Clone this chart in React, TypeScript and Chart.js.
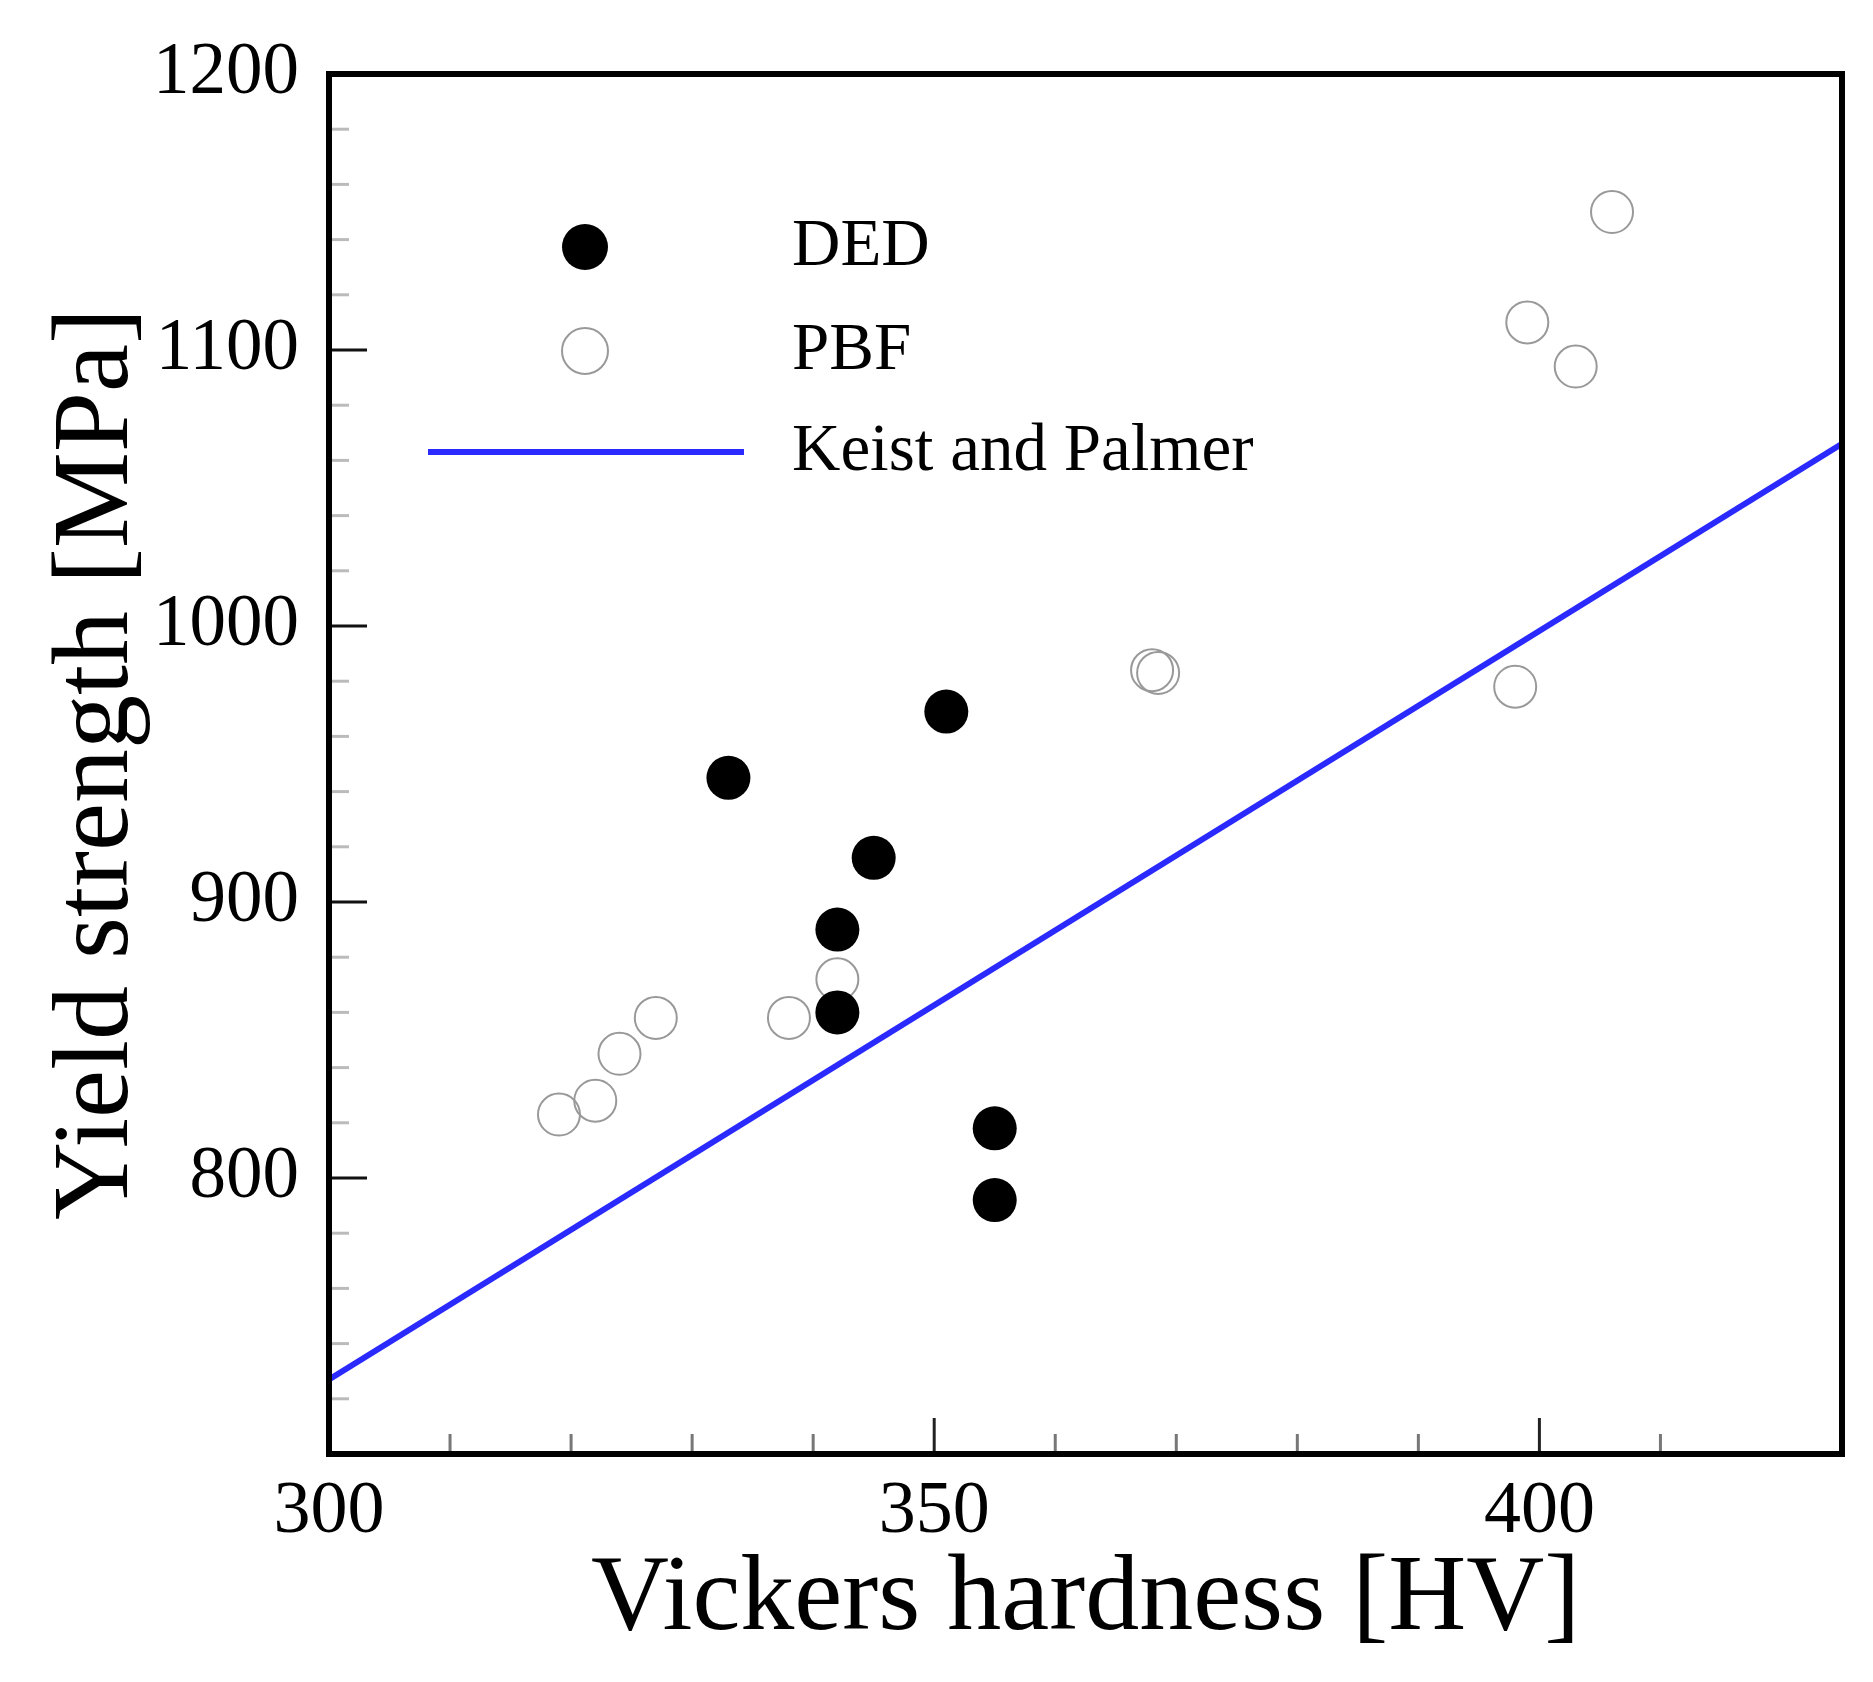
import { useEffect, useRef } from "react"
import { Chart, registerables, type Plugin } from "chart.js"

Chart.register(...registerables)

// DED (filled markers)
const dedHardness = [333, 351, 345, 342, 342, 355, 355]
const dedStrength = [945, 969, 916, 890, 860, 818, 792]

// PBF (open markers)
const pbfHardness = [319, 322, 324, 327, 338, 342, 368, 368.5, 398, 399, 403, 406]
const pbfStrength = [823, 828, 845, 858, 858, 872, 984, 983, 978, 1110, 1094, 1150]

// Keist and Palmer relation, end points
const kpHardness = [300, 425]
const kpStrength = [727, 1066]

const serif = "'Liberation Serif', 'Times New Roman', serif"
const blue = "#2a2aff"

const toPoints = (xs: number[], ys: number[]) => xs.map((x, i) => ({ x, y: ys[i] }))

// inward tick marks and frame
const framePlugin: Plugin<"scatter"> = {
  id: "frame",
  afterDraw(chart) {
    const ctx = chart.ctx
    const { left, right, top, bottom } = chart.chartArea
    const xs = chart.scales.x
    const ys = chart.scales.y
    ctx.save()
    xs.ticks.forEach((t) => {
      const px = xs.getPixelForValue(t.value)
      const major = t.value % 50 === 0
      ctx.strokeStyle = major ? "#222" : "#777"
      ctx.lineWidth = 3
      ctx.beginPath()
      ctx.moveTo(px, bottom)
      ctx.lineTo(px, bottom - (major ? 36 : 20))
      ctx.stroke()
    })
    ys.ticks.forEach((t) => {
      const py = ys.getPixelForValue(t.value)
      const major = t.value % 100 === 0
      ctx.strokeStyle = major ? "#111" : "#bbb"
      ctx.lineWidth = 3
      ctx.beginPath()
      ctx.moveTo(left, py)
      ctx.lineTo(left + (major ? 38 : 20), py)
      ctx.stroke()
    })
    ctx.strokeStyle = "#000"
    ctx.lineWidth = 6
    ctx.strokeRect(left, top, right - left, bottom - top)
    ctx.restore()
  },
}

// legend in the upper left of the plot
const legendPlugin: Plugin<"scatter"> = {
  id: "innerLegend",
  afterDraw(chart) {
    const ctx = chart.ctx
    ctx.save()
    ctx.font = `67px ${serif}`
    ctx.fillStyle = "#000"
    ctx.textBaseline = "middle"
    ctx.textAlign = "left"

    ctx.beginPath()
    ctx.arc(585, 247, 23, 0, Math.PI * 2)
    ctx.fillStyle = "#000"
    ctx.fill()
    ctx.fillText("DED", 792, 247)

    ctx.beginPath()
    ctx.arc(585, 351, 23, 0, Math.PI * 2)
    ctx.strokeStyle = "#999"
    ctx.lineWidth = 2
    ctx.stroke()
    ctx.fillText("PBF", 792, 351)

    ctx.beginPath()
    ctx.moveTo(428, 452)
    ctx.lineTo(744, 452)
    ctx.strokeStyle = blue
    ctx.lineWidth = 6
    ctx.stroke()
    ctx.fillText("Keist and Palmer", 792, 452)
    ctx.restore()
  },
}

export default function App() {
  const canvasRef = useRef<HTMLCanvasElement>(null)

  useEffect(() => {
    if (!canvasRef.current) return
    const chart = new Chart(canvasRef.current, {
      type: "scatter",
      data: {
        datasets: [
          {
            label: "DED",
            data: toPoints(dedHardness, dedStrength),
            pointRadius: 22,
            pointBackgroundColor: "#000",
            pointBorderColor: "#000",
            pointBorderWidth: 0,
            order: 0,
          },
          {
            label: "PBF",
            data: toPoints(pbfHardness, pbfStrength),
            pointRadius: 21,
            pointBackgroundColor: "rgba(0,0,0,0)",
            pointBorderColor: "#999",
            pointBorderWidth: 2,
            order: 1,
          },
          {
            label: "Keist and Palmer",
            data: toPoints(kpHardness, kpStrength),
            showLine: true,
            pointRadius: 0,
            borderColor: blue,
            borderWidth: 6,
            order: 2,
          },
        ],
      },
      options: {
        animation: false,
        responsive: true,
        maintainAspectRatio: false,
        layout: { padding: { left: 0, top: 74, right: 31, bottom: 0 } },
        plugins: { legend: { display: false }, tooltip: { enabled: false } },
        scales: {
          x: {
            type: "linear",
            min: 300,
            max: 425,
            border: { display: false },
            grid: { display: false, drawTicks: false },
            ticks: {
              stepSize: 10,
              padding: 14,
              color: "#000",
              font: { family: serif, size: 74 },
              maxRotation: 0,
              autoSkip: false,
              callback: (v) => (Number(v) % 50 === 0 ? String(v) : ""),
            },
            title: {
              display: true,
              text: "Vickers hardness [HV]",
              color: "#000",
              font: { family: serif, size: 108 },
              padding: { top: 0, bottom: 17 },
            },
            afterFit: (scale) => {
              scale.height = 228
            },
          },
          y: {
            type: "linear",
            min: 700,
            max: 1200,
            border: { display: false },
            grid: { display: false, drawTicks: false },
            ticks: {
              stepSize: 20,
              padding: 30,
              color: "#000",
              font: { family: serif, size: 73 },
              autoSkip: false,
              callback: (v) => (Number(v) % 100 === 0 && Number(v) !== 700 ? String(v) : ""),
            },
            title: {
              display: true,
              text: "Yield strength [MPa]",
              color: "#000",
              font: { family: serif, size: 108 },
              padding: { top: 34, bottom: 0 },
            },
            afterFit: (scale) => {
              scale.width = 329
            },
          },
        },
      },
      plugins: [framePlugin, legendPlugin],
    })
    return () => chart.destroy()
  }, [])

  return (
    <div style={{ position: "fixed", left: 0, top: 0, width: 1873, height: 1682, background: "#fff" }}>
      <canvas ref={canvasRef}></canvas>
    </div>
  )
}
